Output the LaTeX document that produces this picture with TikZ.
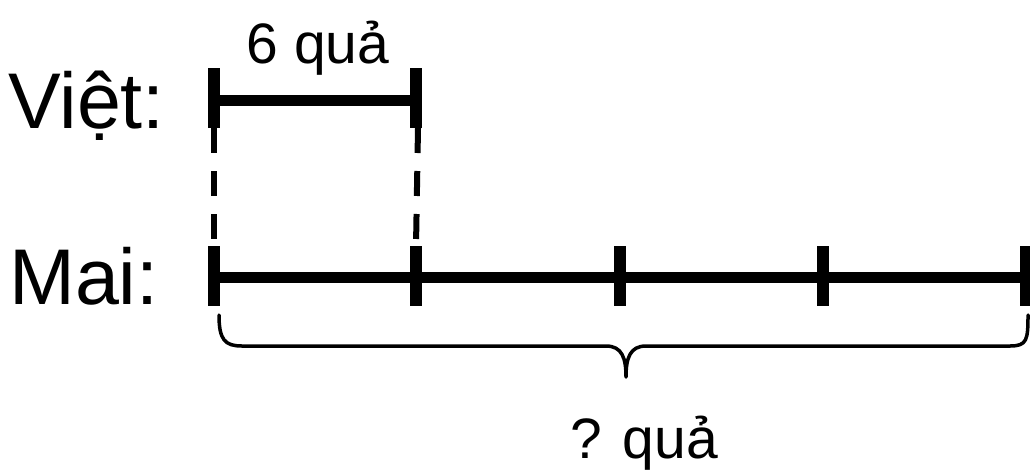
\documentclass[tikz,border=0pt]{standalone}
\usepackage{fontspec}
\setmainfont{Liberation Sans}
\begin{document}
\begin{tikzpicture}[x=1pt,y=-1pt,
  lbl/.style={inner sep=0pt,font=\fontsize{79}{79}\selectfont},
  qty/.style={inner sep=0pt,font=\fontsize{57}{57}\selectfont},
  seg/.style={line width=11pt},
  tick/.style={line width=12pt},
  guide/.style={line width=6pt,dash pattern=on 25pt off 18pt},
  bracepath/.style={line width=3.5pt,line cap=round,line join=round}]
\useasboundingbox (0,0) rectangle (1030,472);
% Viet
\coordinate (v0) at (214,100);
\coordinate (v1) at (416,100);
\coordinate (v0t) at (214,68);
\coordinate (v0b) at (214,128);
\coordinate (v1t) at (416,68);
\coordinate (v1b) at (416,128);
% Mai
\coordinate (m0) at (214,277);
\coordinate (m1) at (416,277);
\coordinate (m2) at (620,277);
\coordinate (m3) at (823,277);
\coordinate (m4) at (1026,277);
\foreach \n/\x in {0/214,1/416,2/620,3/823,4/1026}{
  \coordinate (m\n t) at (\x,246);
  \coordinate (m\n b) at (\x,306);
}
\node[lbl,anchor=base west] (viet) at (8,128) {Việt:};
\node[lbl,anchor=base west] (mai) at (9,304) {Mai:};
\node[qty,anchor=base] (six) at (318,63) {6 quả};
\node[qty,anchor=base] (q) at (644,458) {? quả};
\draw[seg] (v0) -- (v1);
\draw[tick] (v0t) -- (v0b);
\draw[tick] (v1t) -- (v1b);
\draw[seg] (m0) -- (m4);
\foreach \n in {0,1,2,3,4}{\draw[tick] (m\n t) -- (m\n b);}
\coordinate (d0) at (214,128);
\coordinate (d1) at (418,128);
\draw[guide] (d0) -- (m0t);
\draw[guide] (d1) -- (416,246);
% brace
\coordinate (bl) at (219,315);
\coordinate (br) at (1028,315);
\coordinate (bm) at (626,377);
\draw[bracepath] (bl) .. controls (219,340) and (225,346) .. (242,346)
  -- (606,346) .. controls (622,346) and (626,358) .. (bm)
  .. controls (626,358) and (630,346) .. (646,346)
  -- (1010,346) .. controls (1027,346) and (1028,340) .. (br);
\end{tikzpicture}
\end{document}
